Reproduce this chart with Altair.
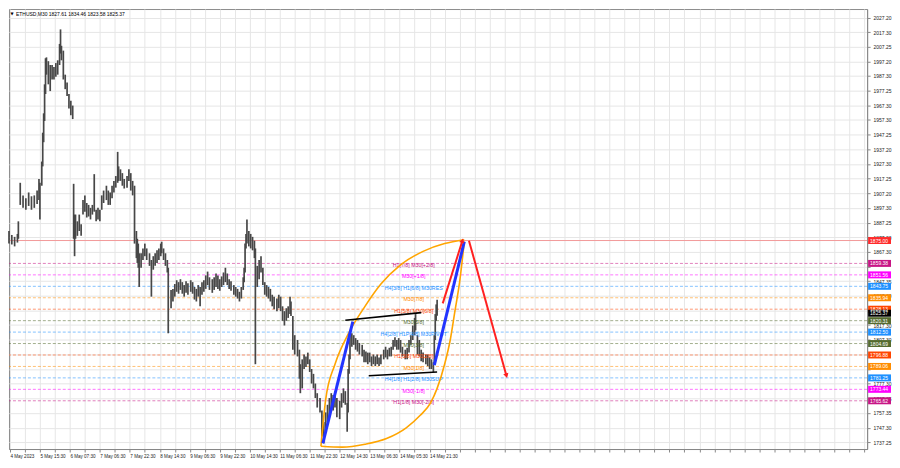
import altair as alt
import pandas as pd

TITLE = "ETHUSD,M30  1827.61 1834.46 1823.58 1825.37"

# ---- price series (bar index, high, low) ----
BAR = [0, 3, 6, 9, 10, 12, 15, 18, 21, 24, 27, 30, 32, 33, 35, 36, 37, 38, 39, 40,
       42, 44, 46, 48, 50, 52, 54, 55, 56, 58, 60, 62, 64, 66, 68,
       69, 70, 71, 73, 75, 77, 79, 81, 83, 85, 87, 89, 91, 93, 95, 97, 99, 101, 104,
       106, 108, 110, 112, 114, 116, 117, 119, 121, 123, 126, 128, 130, 132, 134,
       136, 137, 138, 139, 141, 143, 145, 147, 150, 152, 154, 156, 158, 160, 162, 163,
       165, 167, 169, 170, 173, 175, 177, 179, 181, 183, 185, 187, 189, 191, 194, 196,
       198, 200, 202, 204, 206, 208, 210, 212, 214, 217, 219, 221, 223, 225, 227, 229,
       231, 233, 235, 237, 240, 242, 244, 246, 248, 250, 251, 252, 253, 254, 256, 258,
       260, 262, 263, 265, 267, 269, 271, 273, 275, 277, 279, 281, 283, 286, 288, 290,
       292, 294, 296, 298, 300, 301, 303, 305, 308, 310, 311, 313, 315, 317, 319, 321,
       323, 325, 327, 329, 332, 334, 336, 338, 340, 342, 344, 346, 348, 350, 353, 355,
       357, 359, 361, 362, 363, 364, 366, 368, 370, 372, 374, 377, 379, 381, 383, 385,
       387, 389, 391, 393, 395, 397, 400, 402, 404, 406, 408, 410, 412, 414, 416, 418,
       420, 423, 425, 427, 429, 431, 433, 434, 436, 438, 440, 442, 445, 447, 449, 451,
       453, 454, 455, 456, 457]
HIGH = [1881.5, 1878.8, 1877.5, 1879.5, 1888.1, 1914.4, 1905.8, 1903.9, 1907.8, 1905.2,
        1905.8, 1909.1, 1917.0, 1914.4, 1928.9, 1948.6, 1961.8, 1981.6, 1999.4, 2000.0,
        1997.4, 1994.8, 1994.8, 1993.4, 1996.1, 1998.0, 2009.2, 2019.1, 2007.9, 2004.6,
        1988.2, 1982.9, 1975.0, 1970.4, 1967.1,
        1913.7, 1892.7, 1892.7, 1888.1, 1892.7, 1886.1, 1902.6, 1905.8, 1900.6, 1899.3,
        1897.3, 1899.3, 1920.3, 1896.0, 1897.3, 1896.0, 1905.8, 1909.1, 1912.4,
        1909.1, 1907.8, 1912.4, 1915.7, 1919.0, 1935.5, 1925.6, 1923.6, 1921.0, 1917.0,
        1919.0, 1923.6, 1921.0, 1915.7, 1912.4,
        1881.5, 1876.2, 1872.9, 1866.3, 1866.3, 1869.6, 1872.9, 1869.6, 1866.3, 1861.7,
        1864.3, 1866.3, 1868.3, 1869.6, 1872.9, 1874.2,
        1869.6, 1866.3, 1861.7, 1856.4, 1841.3, 1842.0, 1845.3, 1847.9, 1846.6, 1848.6,
        1846.6, 1844.6, 1847.2, 1845.9, 1847.9, 1846.6,
        1843.3, 1842.0, 1844.6, 1843.3, 1846.6, 1847.9, 1851.2, 1853.8, 1849.9, 1848.6,
        1849.9, 1852.5, 1851.2, 1848.6, 1850.5, 1853.2,
        1856.4, 1852.5, 1848.6, 1847.2, 1844.6, 1843.3, 1842.0, 1840.0, 1843.3, 1849.9,
        1856.4, 1872.9, 1879.5, 1889.4, 1881.5, 1879.5,
        1877.5, 1874.9, 1869.6, 1857.7, 1861.7, 1864.3, 1856.4, 1846.6, 1844.6, 1843.3,
        1842.0, 1838.0, 1836.7, 1835.4, 1838.0, 1836.7,
        1830.1, 1826.8, 1828.8, 1830.1, 1836.7, 1833.4, 1823.5, 1810.4, 1807.1, 1800.5,
        1790.6, 1793.9, 1797.2, 1795.9, 1798.5, 1793.9,
        1787.3, 1784.0, 1777.4, 1770.8, 1767.5, 1759.0, 1751.1, 1757.7, 1762.9, 1767.5,
        1770.8, 1769.5, 1772.2, 1767.5, 1765.6, 1770.8,
        1774.1, 1772.2, 1764.2, 1787.3, 1797.2, 1810.4, 1811.7, 1810.4, 1808.4, 1807.1,
        1805.1, 1803.8, 1800.5, 1799.2, 1798.5, 1798.5,
        1795.9, 1797.2, 1795.9, 1797.2, 1795.2, 1797.2, 1800.5, 1802.5, 1800.5, 1801.8,
        1802.5, 1807.1, 1809.0, 1807.1, 1808.4, 1807.1,
        1802.5, 1800.5, 1801.8, 1807.1, 1810.4, 1817.0, 1822.2, 1824.8, 1810.4, 1807.1,
        1800.5, 1798.5, 1797.2, 1797.2, 1795.2, 1793.9,
        1791.9, 1810.4, 1824.8, 1831.4, 1834.5]
LOW = [1872.9, 1872.3, 1871.0, 1873.6, 1876.2, 1899.3, 1897.3, 1896.0, 1898.6, 1896.0,
       1897.3, 1899.9, 1902.6, 1889.4, 1912.4, 1925.6, 1942.1, 1956.6, 1975.0, 1988.2,
       1981.6, 1977.0, 1984.9, 1984.9, 1986.8, 1988.2, 1994.8, 2002.6, 1998.0, 1984.9,
       1978.3, 1973.7, 1965.1, 1960.5, 1957.9,
       1876.2, 1864.3, 1876.2, 1878.2, 1881.5, 1878.2, 1892.7, 1894.7, 1890.7, 1891.4,
       1889.4, 1892.7, 1894.7, 1888.1, 1889.4, 1888.1, 1896.0, 1900.6, 1902.6,
       1899.3, 1899.3, 1903.9, 1907.8, 1911.1, 1914.4, 1915.7, 1915.7, 1912.4, 1910.5,
       1911.1, 1915.7, 1909.1, 1905.8, 1872.9,
       1863.0, 1859.7, 1856.4, 1843.3, 1856.4, 1861.7, 1864.3, 1861.7, 1857.7, 1836.7,
       1855.1, 1857.7, 1859.7, 1861.7, 1864.3, 1866.3,
       1861.7, 1857.7, 1853.2, 1811.7, 1828.8, 1833.4, 1836.7, 1840.0, 1838.7, 1841.3,
       1838.7, 1836.7, 1839.3, 1838.0, 1840.0, 1838.7,
       1834.7, 1833.4, 1836.7, 1830.1, 1838.0, 1840.0, 1842.0, 1844.6, 1841.3, 1839.3,
       1841.3, 1843.3, 1842.0, 1840.7, 1843.3, 1844.6,
       1846.6, 1844.6, 1842.0, 1840.7, 1838.0, 1836.7, 1835.4, 1833.4, 1835.4, 1841.3,
       1846.6, 1853.2, 1869.6, 1872.9, 1871.0, 1869.6,
       1868.3, 1863.0, 1790.6, 1843.3, 1848.6, 1853.2, 1844.6, 1838.0, 1836.7, 1835.4,
       1833.4, 1830.1, 1828.1, 1826.8, 1828.8, 1826.8,
       1820.2, 1817.0, 1820.2, 1822.2, 1824.8, 1823.5, 1800.5, 1797.2, 1795.9, 1780.7,
       1770.8, 1774.1, 1787.3, 1788.6, 1790.6, 1785.3,
       1777.4, 1774.1, 1767.5, 1761.0, 1757.7, 1741.2, 1736.6, 1744.5, 1751.1, 1754.4,
       1759.0, 1759.0, 1761.0, 1754.4, 1753.1, 1761.0,
       1764.2, 1762.9, 1744.5, 1757.7, 1784.0, 1793.9, 1802.5, 1803.8, 1800.5, 1799.2,
       1797.2, 1795.9, 1791.9, 1791.9, 1790.6, 1791.9,
       1789.3, 1790.6, 1789.3, 1790.6, 1789.3, 1790.6, 1793.9, 1795.2, 1793.9, 1795.9,
       1795.9, 1800.5, 1802.5, 1800.5, 1800.5, 1798.5,
       1795.9, 1793.9, 1793.9, 1798.5, 1803.8, 1807.1, 1810.4, 1813.7, 1797.2, 1795.9,
       1792.6, 1791.9, 1790.6, 1789.3, 1787.3, 1787.3,
       1785.3, 1790.6, 1807.1, 1820.2, 1823.6]

# ---- Murrey levels ----
LEVEL_PRICE = [1859.38, 1851.56, 1843.75, 1835.94, 1828.13, 1820.31, 1812.50,
               1804.69, 1796.88, 1789.06, 1781.25, 1773.44, 1765.62]
LEVEL_NAME = ["H1[7/8] M30[+2/8]", "M30[+1/8]", "H4[3/8] H1[6/8] M30RES", "M30[7/8]",
              "H1[5/8] M30[6/8]", "M30[5/8]", "H4[2/8] H1P[4/8] M30PIVOT", "M30[3/8]",
              "H1[3/8] M30[2/8]", "M30[1/8]", "H4[1/8] H1[2/8] M30SUP", "M30[-1/8]",
              "H1[1/8] M30[-2/8]"]
LEVEL_COLOR = ["#c71585", "#ff00ff", "#1e90ff", "#ff8c00", "#ff4500", "#556b2f",
               "#1e90ff", "#556b2f", "#ff4500", "#ff8c00", "#1e90ff", "#ff00ff", "#c71585"]
RED_LEVEL = 1875.00
LAST_PRICE = 1825.37

# ---- axes ----
Y_TICKS = [2027.20, 2017.30, 2007.25, 1997.20, 1987.30, 1977.25, 1967.30, 1957.30,
           1947.25, 1937.20, 1927.30, 1917.25, 1907.20, 1897.30, 1887.25, 1877.20,
           1867.30, 1857.30, 1847.35, 1837.30, 1827.30, 1817.30, 1807.30, 1797.30,
           1787.30, 1777.30, 1767.35, 1757.35, 1747.30, 1737.25]
Y_HIDDEN = [1857.30, 1827.30, 1797.30, 1787.30]
DATE_BARS = [1, 33, 65, 97, 129, 161, 193, 225, 257, 289, 321, 353, 385, 417, 449]
DATE_LABELS = ["4 May 2023", "5 May 15:30", "6 May 07:30", "7 May 06:30", "7 May 22:30",
               "8 May 14:30", "9 May 06:30", "9 May 22:30", "10 May 14:30", "11 May 06:30",
               "11 May 22:30", "12 May 14:30", "13 May 06:30", "14 May 05:30", "14 May 21:30"]

# ---- drawn objects ----
UP_TREND_BAR, UP_TREND_PRICE = [359, 440], [1820.6, 1825.8]
LO_TREND_BAR, LO_TREND_PRICE = [384, 457], [1782.7, 1785.3]
BLUE1_BAR, BLUE1_PRICE = [335, 367], [1736.6, 1819.6]
BLUE2_BAR, BLUE2_PRICE = [454, 486], [1790.0, 1874.2]
RED1_BAR, RED1_PRICE = [463, 484], [1832.1, 1874.9]
RED2_BAR, RED2_PRICE = [491, 531], [1874.9, 1782.7]
ARC_UP_BAR = [333, 338, 348, 363, 380, 397, 418, 442, 465, 486]
ARC_UP_PRICE = [1734.6, 1766.2, 1790.6, 1812.3, 1830.1, 1845.3, 1858.4, 1867.6, 1872.9, 1875.5]
ARC_LO_BAR = [333, 356, 380, 403, 424, 439, 450, 457, 465, 471, 476, 481, 486]
ARC_LO_PRICE = [1734.6, 1734.0, 1736.0, 1739.9, 1747.2, 1755.7, 1764.2, 1774.1, 1790.6,
                1807.1, 1826.8, 1846.6, 1874.2]
LABEL_BAR = 432

W, H = 862, 442
FONT = "Liberation Sans"
xs = alt.Scale(domain=[0, 916], nice=False, zero=False)
ys = alt.Scale(domain=[1732.7, 2033.0], nice=False, zero=False)

date_expr = " : ".join(f"datum.value == {b} ? '{t}'" for b, t in zip(DATE_BARS, DATE_LABELS)) + " : ''"
x_axis = alt.Axis(values=list(range(1, 916, 16)), labelExpr=date_expr, grid=True,
                  gridColor="#e6e6e6", tickSize=3, tickColor="#888", domainColor="#888",
                  labelFontSize=4.6, labelFont=FONT, labelAlign="left", labelPadding=2,
                  labelColor="#222", title=None, labelOverlap=False, labelFlush=False)
hidden = ",".join(str(v) for v in Y_HIDDEN)
y_axis = alt.Axis(orient="right", values=Y_TICKS, grid=True, gridColor="#e6e6e6",
                  labelExpr=f"indexof([{hidden}], datum.value) >= 0 ? '' : format(datum.value, '.2f')",
                  tickSize=3, tickColor="#888", domainColor="#888", labelFontSize=5,
                  labelFont=FONT, labelColor="#222", labelPadding=3, title=None,
                  labelOverlap=False, labelFlush=False)

candles = pd.DataFrame({"bar": BAR, "high": HIGH, "low": LOW})
levels = pd.DataFrame({"price": LEVEL_PRICE, "name": LEVEL_NAME, "color": LEVEL_COLOR,
                       "bar": [LABEL_BAR] * len(LEVEL_PRICE)})
tags = pd.DataFrame({"price": LEVEL_PRICE + [RED_LEVEL, LAST_PRICE],
                     "color": LEVEL_COLOR + ["#ff2a2a", "#000000"]})
tags["label"] = tags["price"].map(lambda v: f"{v:.2f}")
tags = tags.sort_values("price", ascending=False)

def seg(name, bars, prices, color, width):
    return pd.DataFrame({"grp": name, "bar": bars, "price": prices, "color": color,
                         "w": width, "ord": list(range(len(bars)))})

straight = pd.concat([
    seg("up", UP_TREND_BAR, UP_TREND_PRICE, "#000000", 1.6),
    seg("lo", LO_TREND_BAR, LO_TREND_PRICE, "#000000", 1.6),
    seg("b1", BLUE1_BAR, BLUE1_PRICE, "#2234ff", 3.0),
    seg("b2", BLUE2_BAR, BLUE2_PRICE, "#2234ff", 3.0),
    seg("r1", RED1_BAR, RED1_PRICE, "#ff2020", 2.0),
    seg("r2", RED2_BAR, RED2_PRICE, "#ff2020", 2.0),
])
arcs = pd.concat([
    seg("au", ARC_UP_BAR, ARC_UP_PRICE, "#ffa500", 1.6),
    seg("al", ARC_LO_BAR, ARC_LO_PRICE, "#ffa500", 1.6),
])

X = lambda f: alt.X(f, scale=xs, axis=x_axis)
Y = lambda f: alt.Y(f, scale=ys, axis=y_axis)

level_lines = alt.Chart(levels).mark_rule(strokeDash=[3, 2], strokeWidth=1, opacity=0.55).encode(
    y=Y("price:Q"), color=alt.Color("color:N", scale=None))
red_line = alt.Chart(pd.DataFrame({"price": [RED_LEVEL]})).mark_rule(
    color="#f29a9a", strokeWidth=1).encode(y=Y("price:Q"))
price = alt.Chart(candles).mark_rule(color="#474747", strokeWidth=1.7).encode(
    x=X("bar:Q"), y=Y("low:Q"), y2="high:Q")
level_text = alt.Chart(levels).mark_text(fontSize=5.3, font=FONT, align="center",
                                         baseline="middle", dy=1.5).encode(
    x=X("bar:Q"), y=Y("price:Q"), text="name:N", color=alt.Color("color:N", scale=None))
arc_layer = alt.Chart(arcs).mark_line(interpolate="monotone").encode(
    x=X("bar:Q"), y=Y("price:Q"), detail="grp:N", order="ord:Q",
    color=alt.Color("color:N", scale=None), strokeWidth=alt.StrokeWidth("w:Q", scale=None))
line_layer = alt.Chart(straight).mark_line().encode(
    x=X("bar:Q"), y=Y("price:Q"), detail="grp:N", order="ord:Q",
    color=alt.Color("color:N", scale=None), strokeWidth=alt.StrokeWidth("w:Q", scale=None))
arrow1 = alt.Chart(pd.DataFrame({"bar": [RED1_BAR[1]], "price": [RED1_PRICE[1]]})).mark_point(
    shape="triangle-up", filled=True, color="#ff2020", size=28, angle=17, opacity=1).encode(
    x=X("bar:Q"), y=Y("price:Q"))
arrow2 = alt.Chart(pd.DataFrame({"bar": [RED2_BAR[1]], "price": [RED2_PRICE[1]]})).mark_point(
    shape="triangle-up", filled=True, color="#ff2020", size=28, angle=164, opacity=1).encode(
    x=X("bar:Q"), y=Y("price:Q"))
tag_box = alt.Chart(tags).mark_tick(orient="horizontal", size=23, thickness=7, opacity=1).encode(
    x=alt.value(W + 12.5), y=Y("price:Q"), color=alt.Color("color:N", scale=None))
tag_text = alt.Chart(tags).mark_text(align="left", baseline="middle", fontSize=5, font=FONT,
                                     color="white").encode(
    x=alt.value(W + 3), y=Y("price:Q"), text="label:N")
title = alt.Chart(pd.DataFrame({"t": [TITLE]})).mark_text(
    align="left", baseline="middle", fontSize=5, font=FONT, color="#000").encode(
    x=alt.value(7), y=alt.value(5), text="t:N")
icon = alt.Chart(pd.DataFrame({"t": ["▼"]})).mark_text(
    align="left", baseline="middle", fontSize=4, font="DejaVu Sans", color="#000").encode(
    x=alt.value(1.5), y=alt.value(5), text="t:N")

chart = alt.layer(level_lines, red_line, price, level_text, arc_layer, line_layer,
                  arrow1, arrow2, tag_box, tag_text, title, icon).properties(
    width=W, height=H, padding=0, background="white"
).configure_view(stroke="#8c8c8c", strokeWidth=1)

chart.save("out.html", embed_options={"renderer": "svg", "actions": False})
